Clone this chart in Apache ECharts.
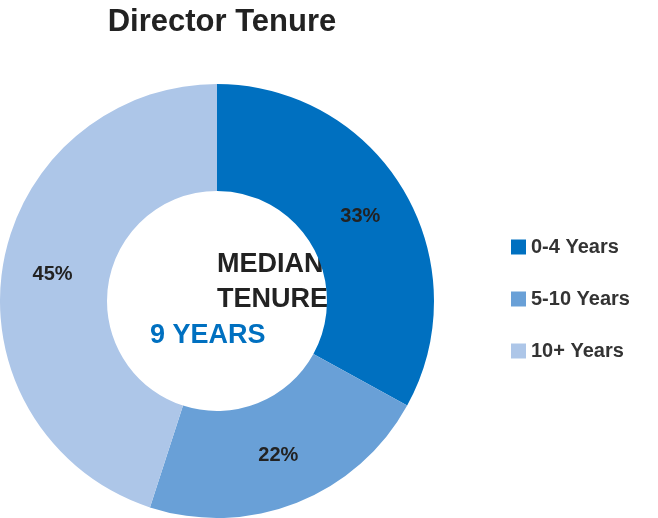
<html>
<head>
<meta charset="utf-8"/>
<script src="https://cdn.jsdelivr.net/npm/echarts@6/dist/echarts.min.js"></script>
<style>
body,#chart{margin:0;padding:0;width:658px;height:518px;background:#fff;}
</style>
</head>
<body>
<div id="chart"></div>
<script>
var categories = ['0-4 Years', '5-10 Years', '10+ Years'];
var values = [33, 22, 45];
var colors = ['#0070c0', '#69a0d7', '#adc6e8'];

var chart = echarts.init(document.getElementById('chart'));
var data = [];
for (var i = 0; i < categories.length; i++) {
    data.push({name: categories[i], value: values[i], itemStyle: {color: colors[i]}});
}
chart.setOption({
    animation: false,
    title: {
        text: 'Director Tenure',
        left: 217, top: 2, textAlign: 'center',
        textStyle: {fontFamily: 'Liberation Sans', fontSize: 31, fontWeight: 'bold', color: '#222'}
    },
    legend: {
        orient: 'vertical',
        left: 506, top: 232,
        itemWidth: 15, itemHeight: 15, itemGap: 32,
        icon: 'rect',
        textStyle: {fontFamily: 'Liberation Sans', fontSize: 20, fontWeight: 'bold', color: '#333'},
        data: categories
    },
    graphic: [{
        type: 'text', left: 217, top: 247,
        style: {
            text: 'MEDIAN\nTENURE', x: 0, align: 'center',
            font: 'bold 27px Liberation Sans', fill: '#222', lineHeight: 35
        }
    }, {
        type: 'text', left: 150, top: 322,
        style: {text: '9 YEARS', font: 'bold 27px Liberation Sans', fill: '#0070c0'}
    }],
    series: [{
        type: 'pie',
        center: [217, 301],
        radius: [110, 217],
        startAngle: 90,
        clockwise: true,
        data: data,
        label: {
            position: 'inside',
            formatter: '{c}%',
            fontFamily: 'Liberation Sans', fontSize: 20, fontWeight: 'bold', color: '#222'
        },
        labelLine: {show: false}
    }]
});
</script>
</body>
</html>
